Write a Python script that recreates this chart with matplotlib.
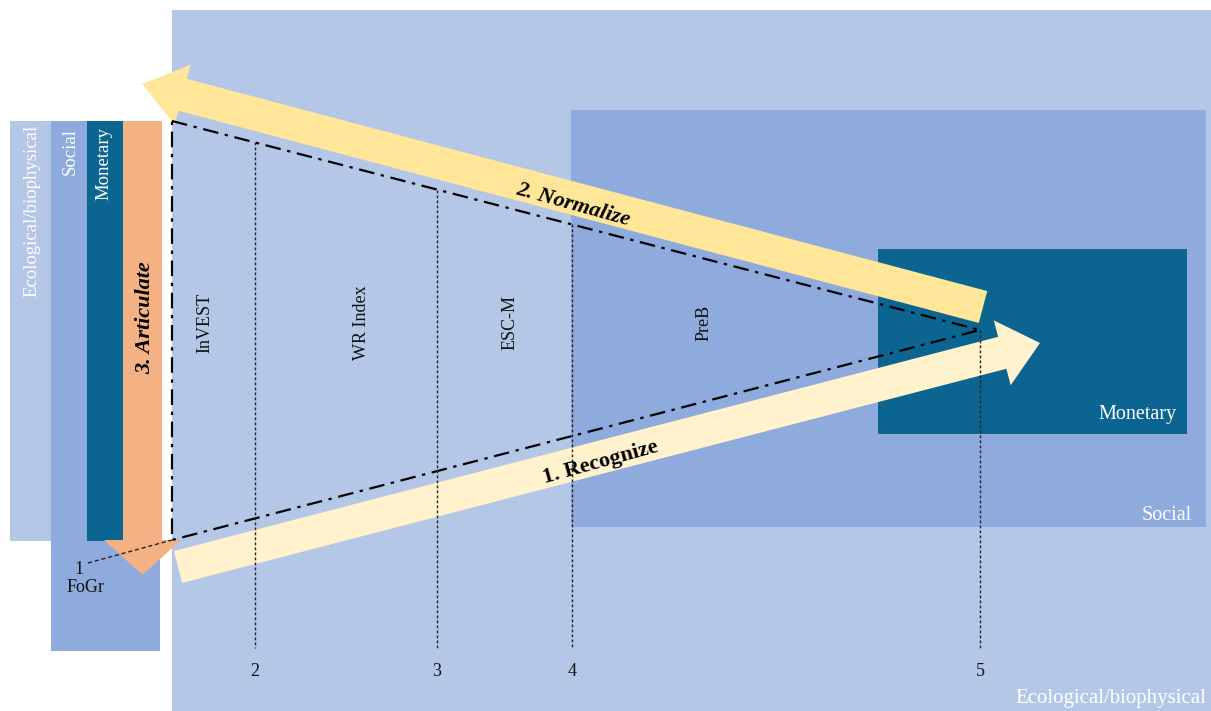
import matplotlib
matplotlib.use("Agg")
import matplotlib.pyplot as plt
from matplotlib.patches import Rectangle, FancyArrow

plt.rcParams['font.family'] = ['Liberation Serif', 'DejaVu Serif']

# canvas in pixels (y goes down)
W, H = 1211, 711

# boxes: name, x0, x1, y0, y1, colour
box_names = ["eco_big", "social_big", "monetary_big", "eco_left", "social_left", "monetary_left"]
box_x0 = [172, 571, 878, 10, 51, 87]
box_x1 = [1211, 1206, 1187, 51, 160, 123]
box_y0 = [10, 110, 249, 121, 121, 121]
box_y1 = [711, 527, 434, 541, 651, 541]
box_col = ["#b4c7e7", "#8faadc", "#0b6590", "#b4c7e7", "#8faadc", "#0b6590"]

# arrows: label, tail, tip, shaft width, head width, head length, colour
arr_labels = ["1. Recognize", "2. Normalize", "3. Articulate"]
arr_tail = [(178, 567), (983, 307), (142.5, 121)]
arr_tip = [(1040, 343), (142, 84), (142.5, 575)]
arr_w = [33, 33, 39]
arr_hw = [67, 62, 77]
arr_hl = [39, 42, 35]
arr_col = ["#fff2cc", "#ffe699", "#f4b183"]
arr_txt_pos = [(601, 462), (573, 205), (145, 318)]
arr_txt_rot = [15.5, -15.5, 90]
arr_txt_style = ["normal", "italic", "italic"]

# method points along the scale
meth_num = ["1", "2", "3", "4", "5"]
meth_x = [88, 255, 437, 572, 980]
meth_names = ["InVEST", "WR Index", "ESC-M", "PreB"]
meth_name_x = [205, 362, 510, 704]

# triangle (dash-dot)
tri_x = [172, 980, 172, 172]
tri_y = [121, 330, 540, 121]

fig = plt.figure(figsize=(W / 100, H / 100), dpi=100)
ax = fig.add_axes([0, 0, 1, 1])
ax.set_xlim(0, W)
ax.set_ylim(H, 0)
ax.axis('off')

for i in range(len(box_names)):
    ax.add_patch(Rectangle((box_x0[i], box_y0[i]), box_x1[i] - box_x0[i], box_y1[i] - box_y0[i],
                           facecolor=box_col[i], edgecolor='none', zorder=1 + i * 0.1))

for i in range(3):
    (x0, y0), (x1, y1) = arr_tail[i], arr_tip[i]
    ax.add_patch(FancyArrow(x0, y0, x1 - x0, y1 - y0, width=arr_w[i], head_width=arr_hw[i],
                            head_length=arr_hl[i], length_includes_head=True,
                            facecolor=arr_col[i], edgecolor='none', zorder=3))
    ax.text(arr_txt_pos[i][0], arr_txt_pos[i][1], arr_labels[i], rotation=arr_txt_rot[i],
            ha='center', va='center', fontsize=16, fontweight='bold', style=arr_txt_style[i],
            color='black', zorder=6)

# dash-dot triangle
ax.plot(tri_x, tri_y, color='black', lw=1.6, ls=(0, (7, 3, 1.5, 3)), zorder=4)

# fine dotted line from point 1
ax.plot([meth_x[0], 172], [563, 540], color='#222222', lw=1.0, ls=(0, (3, 2)), zorder=4)

# vertical dotted lines at points 2..5
slope = (tri_y[1] - tri_y[0]) / (tri_x[1] - tri_x[0])
for i in range(1, 5):
    ytop = tri_y[0] + slope * (meth_x[i] - tri_x[0])
    ax.plot([meth_x[i], meth_x[i]], [ytop, 648], color='#222222', lw=1.0, ls=(0, (2, 1.6)), zorder=4)
    ax.text(meth_x[i], 671, meth_num[i], ha='center', va='center', fontsize=13, color='#111111', zorder=6)

ax.text(79, 570, meth_num[0], ha='center', va='center', fontsize=13, color='#111111', zorder=6)
ax.text(86, 588, "FoGr", ha='center', va='center', fontsize=13, color='#111111', zorder=6)

for name, x in zip(meth_names, meth_name_x):
    ax.text(x, 323, name, rotation=90, ha='center', va='center', fontsize=13, color='#111111', zorder=6)

# white labels of the value dimensions
ax.text(1177, 415, "Monetary", ha='right', va='center', fontsize=14.5, color='white', zorder=6)
ax.text(1192, 516, "Social", ha='right', va='center', fontsize=14.5, color='white', zorder=6)
ax.text(1206, 698, "Ecological/biophysical", ha='right', va='center', fontsize=15, color='white', zorder=6)
ax.text(32, 125, "Ecological/biophysical", rotation=90, ha='center', va='top', fontsize=13.5, color='white', zorder=6)
ax.text(70, 128, "Social", rotation=90, ha='center', va='top', fontsize=13.5, color='white', zorder=6)
ax.text(104, 127, "Monetary", rotation=90, ha='center', va='top', fontsize=13.5, color='white', zorder=6)

fig.savefig("out.png", dpi=100, facecolor='white')
